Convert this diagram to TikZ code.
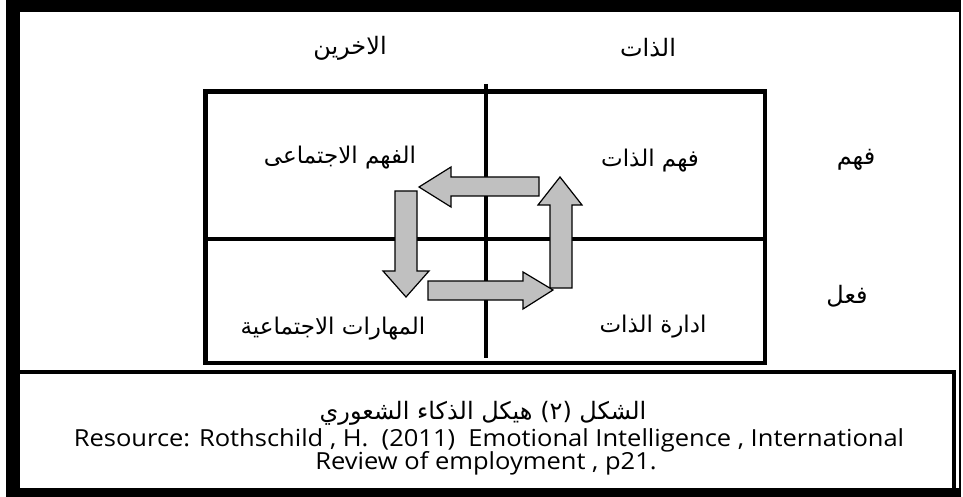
\documentclass[tikz,border=0pt]{standalone}
\usepackage{fontspec}
\setmainfont{Open Sans}
\TeXXeTstate=1
\newfontfamily\arabicfont[Script=Arabic]{DejaVu Sans}
\definecolor{arrowgray}{RGB}{192,192,192}
\newcommand{\engwide}[1]{\scalebox{1.085}[1]{#1}}
\begin{document}
\begin{tikzpicture}[x=1pt,y=-1pt,
  hdr/.style={font=\arabicfont\fontsize{24}{26}\selectfont, inner sep=0pt},
  cell/.style={font=\arabicfont\fontsize{23}{26}\selectfont, inner sep=0pt},
  captext/.style={font=\arabicfont\fontsize{24}{26}\selectfont, inner sep=0pt, anchor=base},
  eng/.style={font=\fontsize{23.5}{24}\selectfont, inner sep=0pt, anchor=base},
  gridline/.style={line width=4.5pt},
  blockarrow/.style={fill=arrowgray, draw=black, line width=1.2pt, line join=miter},
  frameband/.style={fill=black}]
\useasboundingbox[fill=white] (0,0) rectangle (963,497);
% outer frame
\fill[frameband] (6,0) rectangle (961,12);
\fill[frameband] (6,0) rectangle (20,497);
\fill[frameband] (6,488) rectangle (961,497);
\draw[line width=1.5pt] (960,0) -- (960,497);
% caption box
\draw[line width=4pt] (20,372) -- (956,372);
\draw[line width=4pt] (954,370) -- (954,488);
% grid
\draw[gridline] (205.5,91.5) rectangle (765,363);
\draw[gridline] (486,84) -- (486,358);
\draw[gridline] (205.5,239) -- (765,239);
% column headers
\node[hdr] (others) at (350,48) {\beginR الاخرين\endR};
\node[hdr] (self) at (648,48) {\beginR الذات\endR};
% row headers
\node[hdr] (understand) at (856,160) {\beginR فهم\endR};
\node[hdr] (act) at (847,296) {\beginR فعل\endR};
% cells
\node[cell] (socund) at (340,158) {\beginR الفهم الاجتماعى\endR};
\node[cell] (selfund) at (650,161) {\beginR فهم الذات\endR};
\node[cell] (socskill) at (333,329) {\beginR المهارات الاجتماعية\endR};
\node[cell] (selfman) at (653,327) {\beginR ادارة الذات\endR};
% block arrows
\draw[blockarrow] (550,288) -- (550,205) -- (538,205) -- (560,177) -- (582,205) -- (572,205) -- (572,288) -- cycle;
\draw[blockarrow] (539,177) -- (451,177) -- (451,167) -- (419,187) -- (451,207) -- (451,196) -- (539,196) -- cycle;
\draw[blockarrow] (395,191) -- (395,271) -- (383,271) -- (406,297) -- (429,271) -- (417,271) -- (417,191) -- cycle;
\draw[blockarrow] (428,281) -- (523,281) -- (523,272) -- (553,290) -- (523,309) -- (523,300) -- (428,300) -- cycle;
% caption
\node[captext] (captitle) at (483,419) {\beginR الشكل (٢) هيكل الذكاء الشعوري\endR};
\node[eng] (capsrc) at (489,446) {\engwide{Resource: Rothschild , H.\ \ (2011)\ \ Emotional Intelligence , International}};
\node[eng] (capsrc2) at (486,469) {\engwide{Review of employment , p21.}};
\end{tikzpicture}
\end{document}
